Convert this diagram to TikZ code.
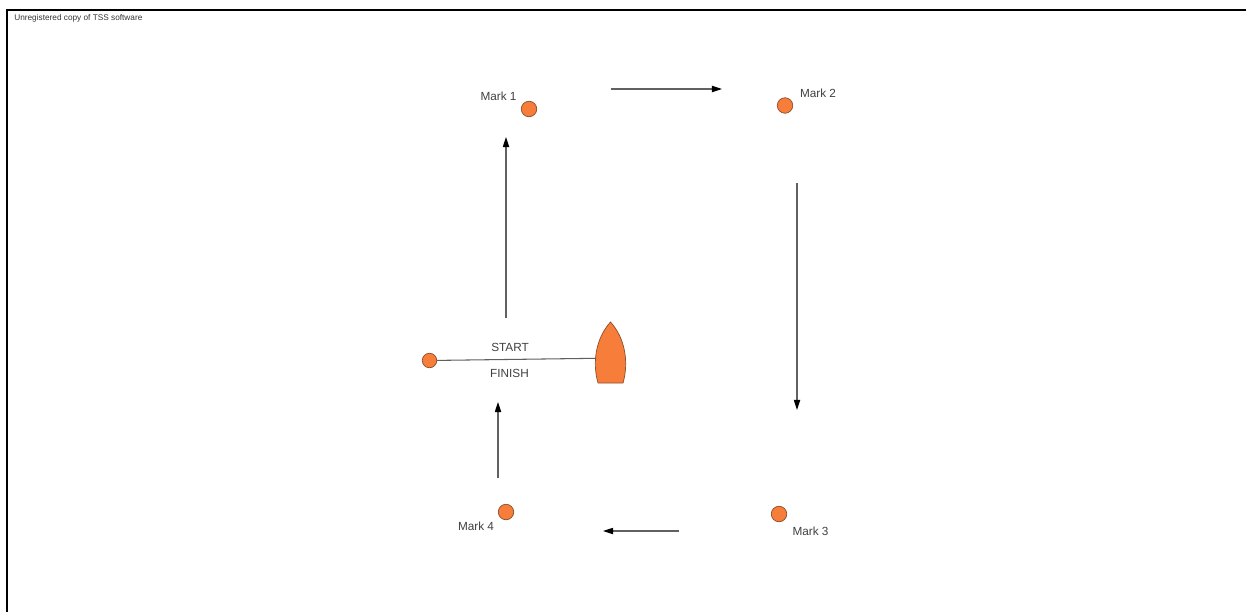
\documentclass[tikz,border=0pt]{standalone}
\usepackage{fontspec}
\setmainfont{Liberation Sans}
\usepackage{tikz}
\usetikzlibrary{arrows.meta,positioning}
\usepackage{xcolor}
\definecolor{mkorange}{RGB}{246,125,58}
\definecolor{mkbrown}{RGB}{140,78,42}
\definecolor{mkgray}{RGB}{64,64,64}
\definecolor{mkline}{RGB}{95,95,95}
\tikzstyle{buoy} = [circle, inner sep=0pt, minimum size=0.31cm, draw=mkbrown, fill=mkorange, thin]
\tikzstyle{buoylabel} = [anchor=base, inner sep=0pt, text=mkgray, font=\fontsize{6.7}{8}\selectfont]
\tikzstyle{arrow} = [line width=0.6pt,-{Triangle[length=5.8pt,width=3.6pt,black]},color=black!62]
\tikzstyle{startline} = [line width=0.6pt, color=mkline]
\tikzstyle{hull} = [draw=mkbrown, fill=mkorange, thin]

\begin{document}
\begin{tikzpicture}[x=0.02cm, y=-0.02cm]
\useasboundingbox (0,0) rectangle (1246,612);
% Frame
\draw[line width=1.4pt] (7,612) -- (7,10) -- (1246,10);
\node (banner) [anchor=base west, inner sep=0pt, text=black!80, font=\fontsize{4.7}{6}\selectfont] at (14,20.5) {Unregistered copy of TSS software};

% Marks
\node (mark1) [buoy] at (529,109) {};
\node (mark2) [buoy] at (785,105.5) {};
\node (mark3) [buoy] at (779,514) {};
\node (mark4) [buoy] at (506,512) {};
\node [buoylabel] at (498.5,100.7) {Mark 1};
\node [buoylabel] at (818,97.3) {Mark 2};
\node [buoylabel] at (810.5,535) {Mark 3};
\node [buoylabel] at (476,530.7) {Mark 4};

% Start / finish line
\node (pin) [buoy, minimum size=0.29cm] at (429.5,360.5) {};
\coordinate (boatside) at (596,358.3);
\draw[hull] (598,383) -- (623,383) .. controls (629,362) and (625,338) .. (610.5,322) .. controls (596,338) and (592,362) .. (598,383) -- cycle;
\draw[startline] (pin) -- (boatside);
\node (start) [buoylabel] at (510,351.7) {START};
\node (finish) [buoylabel] at (509.5,377) {FINISH};

% Course legs
\coordinate (leg1a) at (506,318);
\coordinate (leg1b) at (506,137);
\coordinate (leg2a) at (610.5,89);
\coordinate (leg2b) at (722,89);
\coordinate (leg3a) at (797,183);
\coordinate (leg3b) at (797,410);
\coordinate (leg4a) at (679,531);
\coordinate (leg4b) at (603,531);
\coordinate (leg5a) at (498,478);
\coordinate (leg5b) at (498,402);
\draw[arrow] (leg1a) -- (leg1b);
\draw[arrow] (leg2a) -- (leg2b);
\draw[arrow] (leg3a) -- (leg3b);
\draw[arrow] (leg4a) -- (leg4b);
\draw[arrow] (leg5a) -- (leg5b);
\end{tikzpicture}
\end{document}
